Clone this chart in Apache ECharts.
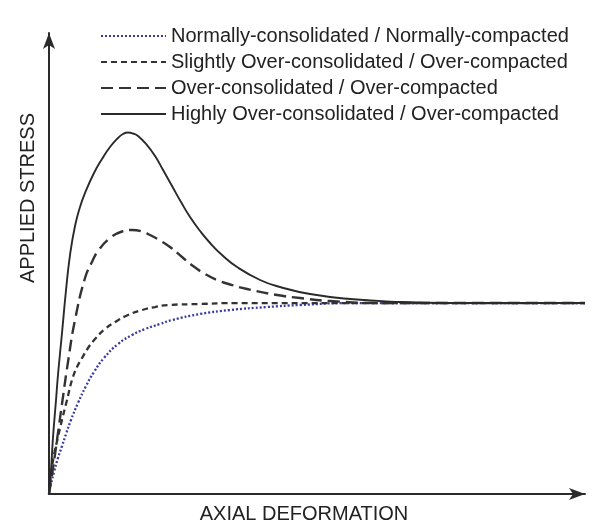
<!DOCTYPE html>
<html>
<head>
<meta charset="utf-8">
<script src="https://cdn.jsdelivr.net/npm/echarts@6/dist/echarts.min.js"></script>
<style>html,body{margin:0;padding:0;background:#fff;}#c{width:595px;height:525px;}</style>
</head>
<body>
<div id="c"></div>
<script>
const seriesNames = [
  'Normally-consolidated / Normally-compacted',
  'Slightly Over-consolidated / Over-compacted',
  'Over-consolidated / Over-compacted',
  'Highly Over-consolidated / Over-compacted'
];
const xTitle = 'AXIAL DEFORMATION';
const yTitle = 'APPLIED STRESS';

// [axial deformation, applied stress] in relative units
const normallyConsolidated = [[0,0],[0.37,2.13],[0.92,4.69],[1.65,7.68],[2.39,10.23],[3.13,12.79],[4.04,15.78],[5.33,19.40],[6.80,23.03],[8.27,26.01],[10.11,29.00],[12.68,31.98],[15.26,33.90],[17.65,35.18],[20.40,36.25],[22.61,37.10],[27.76,38.38],[33.27,39.23],[40.07,39.87],[46.14,40.30],[55.33,40.72],[98.5,40.72]];
const slightlyOver = [[0,0],[0.37,4.05],[0.92,8.32],[1.65,12.15],[2.39,15.78],[3.31,20.04],[4.23,24.31],[5.15,27.08],[6.07,29.00],[7.17,31.13],[8.46,33.05],[10.29,35.18],[12.13,36.67],[14.52,38.17],[17.10,39.23],[19.49,39.87],[21.88,40.30],[27.76,40.51],[33.82,40.72],[98.5,40.72]];
const overConsolidated = [[0,0],[0.74,5.54],[1.47,11.51],[2.39,19.19],[3.49,28.14],[4.78,37.10],[6.62,46.06],[7.90,49.47],[9.01,51.81],[11.21,54.58],[13.42,55.97],[15.26,56.29],[17.10,55.97],[18.57,55.22],[20.40,54.05],[22.24,52.67],[24.45,50.53],[26.47,48.61],[28.68,46.91],[30.88,45.63],[33.64,44.56],[36.40,43.71],[41.91,42.43],[46.14,41.79],[51.65,41.15],[60.85,40.72],[98.5,40.72]];
const highlyOver = [[0,0],[0.37,5.12],[0.74,12.15],[1.29,20.04],[1.65,25.37],[2.39,34.33],[3.13,43.50],[3.86,50.96],[4.78,57.14],[5.70,61.19],[6.62,64.18],[8.27,68.44],[9.74,71.43],[11.21,73.99],[12.68,75.91],[13.60,76.76],[14.52,77.08],[15.44,76.87],[16.36,76.33],[18.01,74.41],[19.49,72.07],[20.96,69.08],[22.61,65.67],[24.26,62.26],[25.92,59.06],[27.76,56.08],[29.60,53.52],[31.80,50.96],[34.56,48.40],[38.79,45.63],[42.46,44.14],[47.98,42.64],[55.33,41.58],[64.52,40.94],[73.71,40.72],[98.5,40.72]];

const FONT = '"Liberation Sans", Arial, sans-serif';
const chart = echarts.init(document.getElementById('c'), null, {renderer: 'canvas'});
const lineSeries = (name, data, color, width, type) => ({
  name, type: 'line', data, symbol: 'none', smooth: 0.5,
  lineStyle: {color, width, type}, itemStyle: {color}
});
chart.setOption({
  backgroundColor: '#fff',
  animation: false,
  grid: {left: 49, top: 33, width: 536, height: 461, containLabel: false},
  xAxis: {
    type: 'value', min: 0, max: 98.5,
    axisLine: {lineStyle: {color: '#2a2a2a', width: 2}, symbol: ['none', 'arrow'], symbolSize: [9, 16]},
    axisTick: {show: false}, axisLabel: {show: false}, splitLine: {show: false}
  },
  yAxis: {
    type: 'value', min: 0, max: 98.3,
    axisLine: {show: true, lineStyle: {color: '#2a2a2a', width: 2}, symbol: ['none', 'arrow'], symbolSize: [9, 16]},
    axisTick: {show: false}, axisLabel: {show: false}, splitLine: {show: false}
  },
  legend: {
    orient: 'vertical', left: 95, top: 21,
    itemWidth: 65, itemHeight: 20, itemGap: 6,
    itemStyle: {opacity: 0},
    textStyle: {fontFamily: FONT, fontSize: 20, lineHeight: 20, color: '#222'},
    data: seriesNames
  },
  graphic: [
    {type: 'text', x: 304, y: 514, style: {text: xTitle, font: '20px ' + FONT, fill: '#222', align: 'center', verticalAlign: 'middle'}},
    {type: 'text', x: 28, y: 198, rotation: Math.PI / 2, style: {text: yTitle, font: '20px ' + FONT, fill: '#222', align: 'center', verticalAlign: 'middle'}}
  ],
  series: [
    lineSeries(seriesNames[0], normallyConsolidated, '#3a3aa4', 2.3, [2, 2]),
    lineSeries(seriesNames[1], slightlyOver, '#333', 2.3, [6, 4]),
    lineSeries(seriesNames[2], overConsolidated, '#333', 2.4, [12, 6]),
    lineSeries(seriesNames[3], highlyOver, '#2a2a2a', 1.9, 'solid')
  ]
});
</script>
</body>
</html>
